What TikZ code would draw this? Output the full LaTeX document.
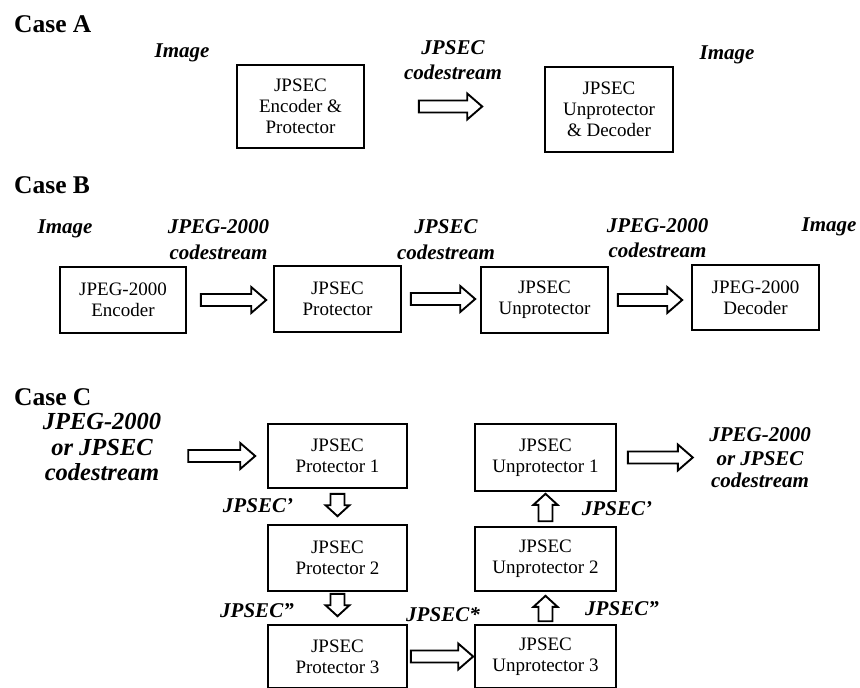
\documentclass[tikz,border=0pt]{standalone}
\usepackage{fontspec}
\setmainfont{Liberation Serif}
\usetikzlibrary{calc}

\tikzset{
  box/.style={draw, line width=1.6pt, align=center, inner sep=0pt,
    font=\fontsize{19}{21}\selectfont},
  lbl/.style={anchor=base, inner sep=0pt,
    font=\fontsize{21}{26}\selectfont\bfseries\itshape},
  biglbl/.style={anchor=base, inner sep=0pt,
    font=\fontsize{24.5}{26}\selectfont\bfseries\itshape},
  casetitle/.style={anchor=base west, inner sep=0pt,
    font=\fontsize{25.5}{28}\selectfont\bfseries},
  blockarrow/.style={draw, line width=1.9pt, fill=white, line join=miter},
}

% hollow block arrow pointing right, from tail #1 to tip #2 (height of #1)
\newcommand{\hblockarrow}[2]{%
  \draw[blockarrow] let \p1=(#1), \p2=(#2) in
    (\x1,\y1+6pt) -- (\x2-15pt,\y1+6pt) -- (\x2-15pt,\y1+13pt) -- (\x2,\y1)
    -- (\x2-15pt,\y1-13pt) -- (\x2-15pt,\y1-6pt) -- (\x1,\y1-6pt) -- cycle;}
% hollow block arrow pointing down, tail #1, tip #2
\newcommand{\downblockarrow}[2]{%
  \draw[blockarrow] let \p1=(#1), \p2=(#2) in
    (\x1-7pt,\y1) -- (\x1-7pt,\y2+11pt) -- (\x1-12pt,\y2+11pt) -- (\x1,\y2)
    -- (\x1+12pt,\y2+11pt) -- (\x1+7pt,\y2+11pt) -- (\x1+7pt,\y1) -- cycle;}
% hollow block arrow pointing up, tail #1, tip #2
\newcommand{\upblockarrow}[2]{%
  \draw[blockarrow] let \p1=(#1), \p2=(#2) in
    (\x1-7pt,\y1) -- (\x1-7pt,\y2-11pt) -- (\x1-12pt,\y2-11pt) -- (\x1,\y2)
    -- (\x1+12pt,\y2-11pt) -- (\x1+7pt,\y2-11pt) -- (\x1+7pt,\y1) -- cycle;}

\begin{document}
\begin{tikzpicture}[x=1pt, y=-1pt]
\useasboundingbox (0,0) rectangle (860,688);

% ---------------- Case A ----------------
\node[casetitle] (tA) at (14,32) {Case A};
\node[box, minimum width=127pt, minimum height=83pt] (A1) at (300.5,106.5)
  {JPSEC\\Encoder \&\\Protector};
\node[box, minimum width=128pt, minimum height=85pt] (A2) at (609,109.5)
  {JPSEC\\Unprotector\\\& Decoder};
\node[lbl] (lA0) at (182,57) {Image};
\node[lbl] (lA1) at (453,54) {JPSEC};
\node[lbl] (lA2) at (453,79) {codestream};
\node[lbl] (lA3) at (727,59) {Image};
\hblockarrow{$(A1.east)+(54,0)$}{$(A2.west)+(-62,0)$}

% ---------------- Case B ----------------
\node[casetitle] (tB) at (14,193) {Case B};
\node[box, minimum width=126pt, minimum height=66pt] (B1) at (123,300)
  {JPEG-2000\\Encoder};
\node[box, minimum width=127pt, minimum height=66pt] (B2) at (337.5,299)
  {JPSEC\\Protector};
\node[box, minimum width=127pt, minimum height=66pt] (B3) at (544.5,300)
  {JPSEC\\Unprotector};
\node[box, minimum width=127pt, minimum height=65pt] (B4) at (755.5,297.5)
  {JPEG-2000\\Decoder};
\node[lbl] (lB0) at (65,233) {Image};
\node[lbl] (lB1) at (218.5,233) {JPEG-2000};
\node[lbl] (lB2) at (218.5,259) {codestream};
\node[lbl] (lB3) at (446,233) {JPSEC};
\node[lbl] (lB4) at (446,259) {codestream};
\node[lbl] (lB5) at (657.5,232) {JPEG-2000};
\node[lbl] (lB6) at (657.5,257) {codestream};
\node[lbl] (lB7) at (829,231) {Image};
\hblockarrow{$(B1.east)+(14,0)$}{$(B2.west)+(-7,0)$}
\hblockarrow{$(B2.east)+(9,0)$}{$(B3.west)+(-5,0)$}
\hblockarrow{$(B3.east)+(9,0)$}{$(B4.west)+(-9,0)$}

% ---------------- Case C ----------------
\node[casetitle] (tC) at (14,405) {Case C};
\node[box, minimum width=139pt, minimum height=64pt] (P1) at (337.5,456)
  {JPSEC\\Protector 1};
\node[box, minimum width=139pt, minimum height=66pt] (P2) at (337.5,558)
  {JPSEC\\Protector 2};
\node[box, minimum width=139pt, minimum height=63pt] (P3) at (337.5,656.5)
  {JPSEC\\Protector 3};
\node[box, minimum width=141pt, minimum height=67pt] (U1) at (545.5,457.5)
  {JPSEC\\Unprotector 1};
\node[box, minimum width=141pt, minimum height=64pt] (U2) at (545.5,559)
  {JPSEC\\Unprotector 2};
\node[box, minimum width=141pt, minimum height=63pt] (U3) at (545.5,656.5)
  {JPSEC\\Unprotector 3};

\node[biglbl] (lC0) at (102,429) {JPEG-2000};
\node[biglbl] (lC1) at (102,455) {or JPSEC};
\node[biglbl] (lC2) at (102,480) {codestream};
\node[lbl] (lC3) at (258,512) {JPSEC’};
\node[lbl] (lC4) at (257,617) {JPSEC”};
\node[lbl] (lC5) at (443,621) {JPSEC*};
\node[lbl] (lC6) at (617,515) {JPSEC’};
\node[lbl] (lC7) at (622,615) {JPSEC”};
\node[lbl] (lC8) at (760,441) {JPEG-2000};
\node[lbl] (lC9) at (760,465) {or JPSEC};
\node[lbl] (lC10) at (760,487) {codestream};

\coordinate (cin) at ($(P1.west)+(-79,0)$);
\coordinate (cout) at ($(U1.east)+(76,0)$);
\hblockarrow{cin}{$(P1.west)+(-12,0)$}
\downblockarrow{$(P1.south)+(0,5)$}{$(P2.north)+(0,-8)$}
\downblockarrow{$(P2.south)+(0,2)$}{$(P3.north)+(0,-8)$}
\hblockarrow{$(P3.east)+(3,0)$}{$(U3.west)+(-1,0)$}
\upblockarrow{$(U3.north)+(0,-3)$}{$(U2.south)+(0,4)$}
\upblockarrow{$(U2.north)+(0,-5)$}{$(U1.south)+(0,2)$}
\hblockarrow{$(U1.east)+(11,0)$}{cout}
\end{tikzpicture}
\end{document}
